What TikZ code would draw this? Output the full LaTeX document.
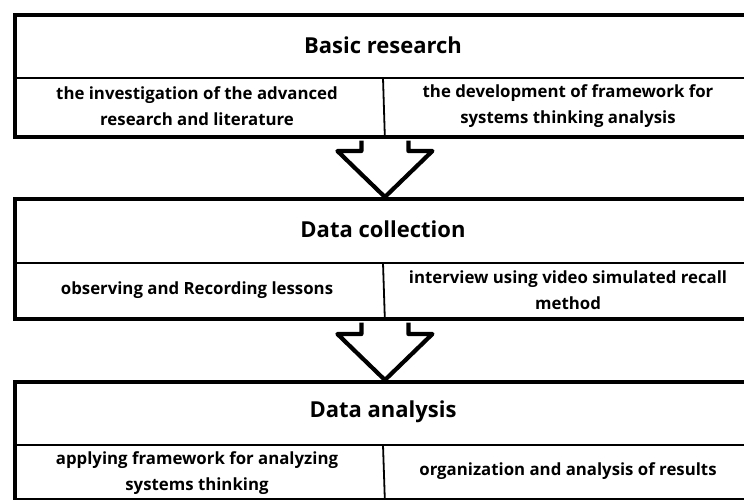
\documentclass[tikz,border=0pt]{standalone}
\usepackage{fontspec}
\setmainfont{Open Sans}
\usetikzlibrary{calc}
\begin{document}
\begin{tikzpicture}[x=1pt,y=-1pt,
  frame/.style={draw=black, line width=3.8pt, fill=white, inner sep=0pt, anchor=north west, minimum width=740pt},
  divider/.style={draw=black, line width=1.8pt},
  stagetitle/.style={font=\fontsize{22}{26}\selectfont\bfseries},
  cell/.style={font=\fontsize{16.8}{25.5}\selectfont\bfseries, align=center},
  flow/.style={draw=black, line width=4.2pt, fill=white, line join=round}
]
\useasboundingbox (0,0) rectangle (744,500);
\begin{scope}
\clip (0,0) rectangle (744,500);

% stage frames
\node[frame, minimum height=122pt] (s1) at (13,13) {};
\node[frame, minimum height=120pt] (s2) at (13,197) {};
\node[frame, minimum height=118pt] (s3) at (13,380) {};

% stage 1: basic research
\draw[divider] (13,78) -- (753,78);
\draw[divider] (383,78) -- (s1.south);
\node[stagetitle] (t1) at (383,45) {Basic research};
\node[cell] (a1) at (197,106) {the investigation of the advanced\\research and literature};
\node[cell] (b1) at (568,106) {the development of framework for\\systems thinking analysis};

% stage 2: data collection
\draw[divider] (13,263) -- (753,263);
\draw[divider] (383,263) -- (s2.south);
\node[stagetitle] (t2) at (383,229) {Data collection};
\node[cell] (a2) at (197,290) {observing and Recording lessons};
\node[cell] (b2) at (568,290) {interview using video simulated recall\\method};

% stage 3: data analysis
\draw[divider] (13,445) -- (753,445);
\draw[divider] (383,445) -- (s3.south);
\node[stagetitle] (t3) at (383,412) {Data analysis};
\node[cell] (a3) at (197,473) {applying framework for analyzing\\systems thinking};
\node[cell] (b3) at (568,471) {organization and analysis of results};

% block arrows between stages
\foreach \from/\to in {s1/s2, s2/s3}{
  \draw[flow] ($(\from.south)+(-23.5,1.9)$) -- ($(\to.north)+(-23.5,-46)$)
    -- ($(\to.north)+(-47.5,-46)$) -- (\to.north)
    -- ($(\to.north)+(47.5,-46)$) -- ($(\to.north)+(23.5,-46)$)
    -- ($(\from.south)+(23.5,1.9)$);
}
\end{scope}
\end{tikzpicture}
\end{document}
